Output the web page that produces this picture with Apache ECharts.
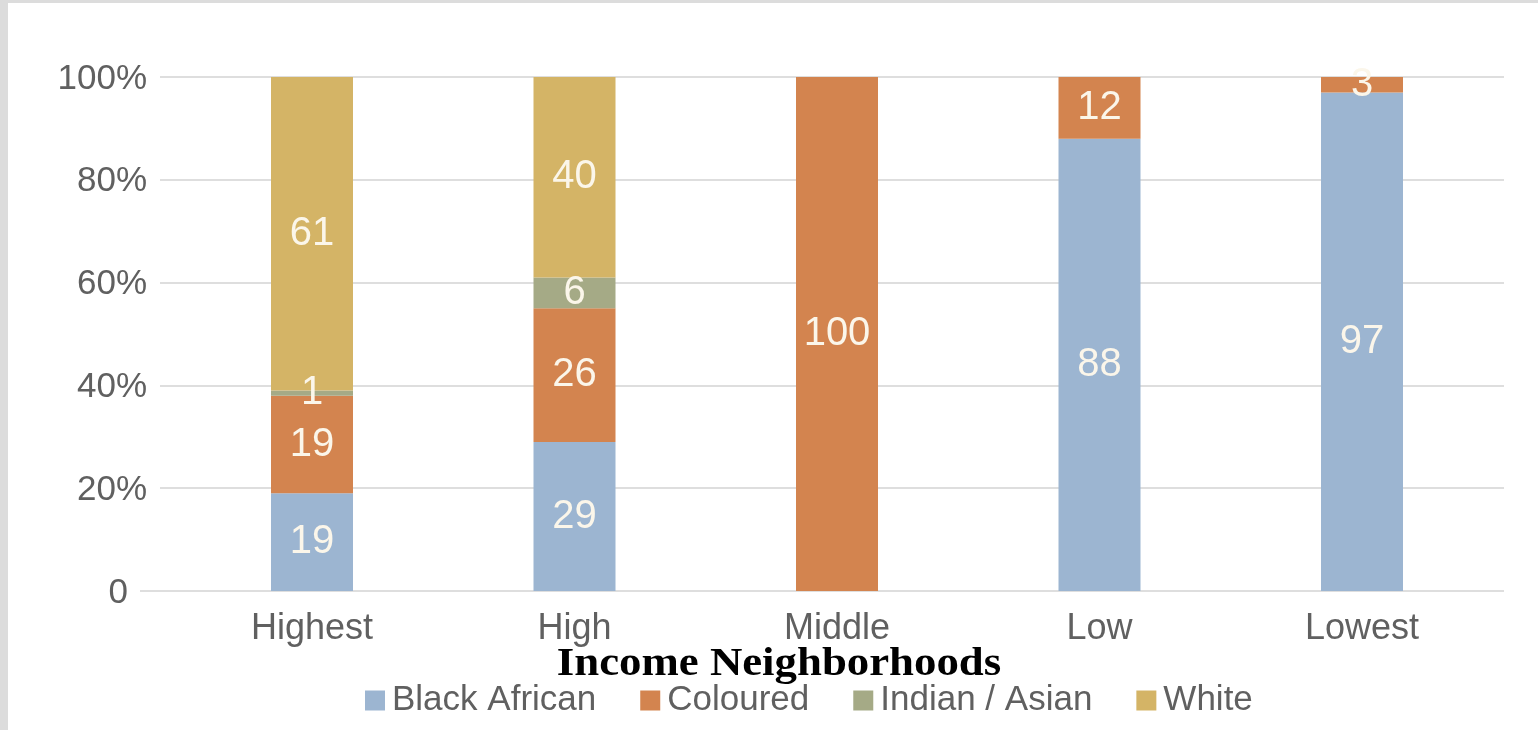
<!DOCTYPE html>
<html><head><meta charset="utf-8">
<script src="https://cdn.jsdelivr.net/npm/echarts@6/dist/echarts.min.js"></script>
<style>html,body{margin:0;padding:0;background:#fff}#c{width:1538px;height:730px}</style>
</head><body><div id="c"></div>
<script>
const categories = ['Highest', 'High', 'Middle', 'Low', 'Lowest'];
const blackAfrican = [19, 29, 0, 88, 97];
const coloured = [19, 26, 100, 12, 3];
const indianAsian = [1, 6, 0, 0, 0];
const white = [61, 40, 0, 0, 0];
const seriesNames = ['Black African', 'Coloured', 'Indian / Asian', 'White'];
const yTickStep = 20;
const xTitle = 'Income Neighborhoods';

const colors = ['#9cb5d1', '#d3844f', '#a5aa86', '#d4b466'];
const SANS = '"Liberation Sans", Arial, sans-serif';
const textGray = '#606060';
const gridGray = '#dedede';

const chart = echarts.init(document.getElementById('c'), null, {renderer: 'canvas'});

function mkSeries(name, data, color) {
  return {
    name: name, type: 'bar', stack: 'total', xAxisIndex: 1, yAxisIndex: 1,
    data: data, barWidth: 82, clip: true,
    itemStyle: {color: color},
    label: {
      show: true, position: 'inside', color: '#fbf6ea', fontFamily: SANS, fontSize: 40,
      formatter: p => (p.value ? String(p.value) : '')
    },
    emphasis: {disabled: true}
  };
}

const option = {
  animation: false,
  backgroundColor: '#ffffff',
  grid: [
    {left: 160, right: 34, top: 77, bottom: 139},
    {left: 180.75, right: 44.75, top: 77, bottom: 139}
  ],
  xAxis: [
    {gridIndex: 0, type: 'category', data: categories, show: false},
    {gridIndex: 1, type: 'category', data: categories,
      axisLine: {show: false}, axisTick: {show: false},
      axisLabel: {color: textGray, fontFamily: SANS, fontSize: 36, margin: 20}}
  ],
  yAxis: [
    {gridIndex: 0, type: 'value', min: 0, max: 100, interval: yTickStep,
      axisLine: {show: false}, axisTick: {show: false},
      splitLine: {lineStyle: {color: gridGray, width: 2}},
      axisLabel: {color: textGray, fontFamily: SANS, fontSize: 35, margin: 13, padding: [4, 0, 0, 0],
        formatter: v => (v === 0 ? '{z|0}' : v + '%'),
        rich: {z: {color: textGray, fontFamily: SANS, fontSize: 35, padding: [0, 19, 0, 0]}}}},
    {gridIndex: 1, type: 'value', min: 0, max: 100, interval: yTickStep, show: false,
      splitLine: {show: false}}
  ],
  legend: {
    left: 360, top: 678, itemWidth: 20, itemHeight: 20, itemGap: 44, icon: 'rect',
    textStyle: {color: textGray, fontFamily: SANS, fontSize: 35, padding: [0, 0, 0, 2]},
    data: seriesNames
  },
  series: [
    mkSeries(seriesNames[0], blackAfrican, colors[0]),
    mkSeries(seriesNames[1], coloured, colors[1]),
    mkSeries(seriesNames[2], indianAsian, colors[2]),
    mkSeries(seriesNames[3], white, colors[3])
  ]
};
chart.setOption(option);

const y0 = chart.convertToPixel({yAxisIndex: 0}, 0);
chart.setOption({
  graphic: [
    {type: 'rect', shape: {x: 0, y: 0, width: 1538, height: 3}, style: {fill: '#dcdcdc'}, silent: true},
    {type: 'rect', shape: {x: 0, y: 0, width: 8, height: 730}, style: {fill: '#dcdcdc'}, silent: true},
    {type: 'line', shape: {x1: 140, y1: y0, x2: 161, y2: y0}, style: {stroke: gridGray, lineWidth: 2}, silent: true},
    {type: 'text', x: 779, y: 665, scaleX: 1.12,
      style: {text: xTitle, font: 'bold 40px "Liberation Serif", "Times New Roman", serif',
        fill: '#000', textAlign: 'center', textVerticalAlign: 'middle'}, silent: true}
  ]
});
</script>
</body></html>
